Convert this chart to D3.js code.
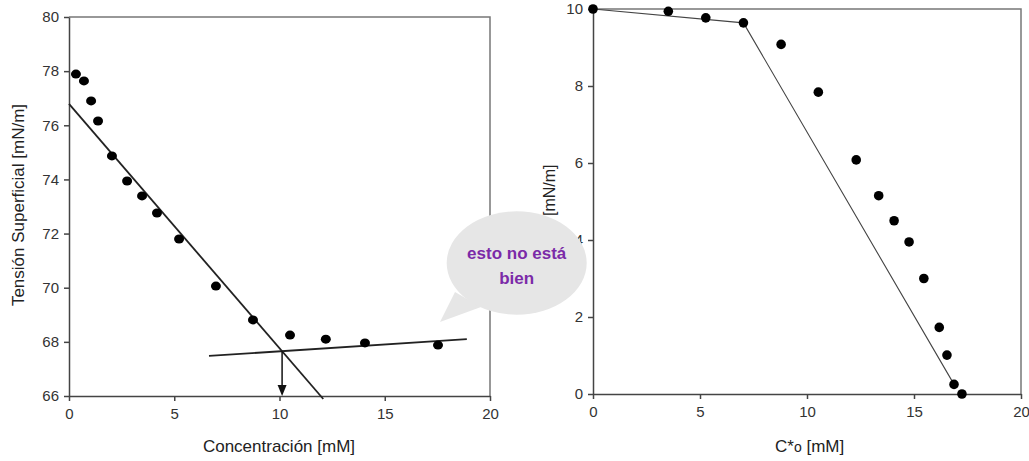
<!DOCTYPE html>
<html>
<head>
<meta charset="utf-8">
<script src="https://cdn.jsdelivr.net/npm/d3@7"></script>
<style>
  html, body { margin: 0; padding: 0; background: #fff; }
  svg { display: block; font-family: "Liberation Sans", Arial, sans-serif; }
  .tick text { fill: #333; font-size: 15px; }
  .tick line, .domain { stroke: #444; }
</style>
</head>
<body>
<svg id="chart" width="1029" height="461"></svg>
<script>
// Surface tension vs concentration (left panel)
const concX = [0.33, 0.71, 1.05, 1.38, 2.04, 2.76, 3.47, 4.18, 5.23, 6.98, 8.74, 10.5, 12.2, 14.06, 17.53];
const tensionY = [77.89, 77.64, 76.9, 76.16, 74.87, 73.94, 73.39, 72.76, 71.80, 70.06, 68.81, 68.25, 68.1, 67.96, 67.88];
// Hand-drawn fit lines (left panel)
const steepLine = [[0, 76.79], [12.08, 65.89]];
const flatLine = [[6.65, 67.48], [18.9, 68.1]];
const leftXTicks = [0, 5, 10, 15, 20];
const leftYTicks = [66, 68, 70, 72, 74, 76, 78, 80];

// Right panel
const c0X = [0, 3.52, 5.27, 7.03, 8.79, 10.53, 12.3, 13.35, 14.07, 14.77, 15.46, 16.18, 16.54, 16.87, 17.24];
const pressY = [10, 9.94, 9.77, 9.64, 9.08, 7.84, 6.08, 5.15, 4.50, 3.95, 3.00, 1.73, 1.01, 0.25, 0];
const rightFit = [[0, 10], [7.03, 9.64], [16.87, 0.25]];
const rightXTicks = [0, 5, 10, 15, 20];
const rightYTicks = [0, 2, 4, 6, 8, 10];

const bubbleLines = ["esto no está", "bien"];

const svg = d3.select("#chart");

function panel(o) {
  const x = d3.scaleLinear().domain(o.xDomain).range([o.x0, o.x1]);
  const y = d3.scaleLinear().domain(o.yDomain).range([o.y1, o.y0]);
  const g = svg.append("g");
  // top and right frame
  g.append("path")
    .attr("d", `M${o.x0},${o.y0}H${o.x1}V${o.y1}`)
    .attr("fill", "none").attr("stroke", "#777").attr("stroke-width", 1.5);
  g.append("g").attr("transform", `translate(0,${o.y1})`)
    .call(d3.axisBottom(x).tickValues(o.xTicks).tickSize(5).tickSizeOuter(0).tickPadding(7))
    .call(s => s.selectAll(".domain,.tick line").attr("stroke-width", 1.5));
  g.append("g").attr("transform", `translate(${o.x0},0)`)
    .call(d3.axisLeft(y).tickValues(o.yTicks).tickSize(5).tickSizeOuter(0).tickPadding(5))
    .call(s => s.selectAll(".domain,.tick line").attr("stroke-width", 1.5));
  return { x, y, g };
}

// ---- Left panel ----
const L = panel({ xDomain: [0, 20], yDomain: [66, 80], x0: 69, x1: 490, y0: 17, y1: 396,
  xTicks: leftXTicks, yTicks: leftYTicks });

const line = d3.line().x(d => L.x(d[0])).y(d => L.y(d[1]));
[steepLine, flatLine].forEach(l => {
  L.g.append("path").attr("d", line(l)).attr("fill", "none")
    .attr("stroke", "#222").attr("stroke-width", 1.8);
});

// intersection of the two fit lines
const m1 = (steepLine[1][1] - steepLine[0][1]) / (steepLine[1][0] - steepLine[0][0]);
const m2 = (flatLine[1][1] - flatLine[0][1]) / (flatLine[1][0] - flatLine[0][0]);
const b1 = steepLine[0][1] - m1 * steepLine[0][0];
const b2 = flatLine[0][1] - m2 * flatLine[0][0];
const cmcX = (b2 - b1) / (m1 - m2);
const cmcY = m1 * cmcX + b1;

const ax = L.x(cmcX), ayTop = L.y(cmcY), ayBot = L.y(66);
L.g.append("line").attr("x1", ax).attr("x2", ax).attr("y1", ayTop).attr("y2", ayBot - 9)
  .attr("stroke", "#111").attr("stroke-width", 1.5);
L.g.append("path").attr("d", `M${ax - 4.5},${ayBot - 11}L${ax + 4.5},${ayBot - 11}L${ax},${ayBot}Z`)
  .attr("fill", "#111");

L.g.selectAll("ellipse.pt").data(concX.map((v, i) => [v, tensionY[i]])).join("ellipse")
  .attr("class", "pt")
  .attr("cx", d => L.x(d[0])).attr("cy", d => L.y(d[1]))
  .attr("rx", 5).attr("ry", 4.5).attr("fill", "#000");

svg.append("text").attr("x", 279).attr("y", 452).attr("text-anchor", "middle")
  .attr("font-size", 17).attr("fill", "#222").text("Concentración [mM]");
svg.append("text").attr("transform", "translate(24,205) rotate(-90)").attr("text-anchor", "middle")
  .attr("font-size", 17).attr("fill", "#222").text("Tensión Superficial [mN/m]");

// ---- Right panel ----
const R = panel({ xDomain: [0, 20], yDomain: [0, 10], x0: 593, x1: 1021, y0: 9, y1: 394,
  xTicks: rightXTicks, yTicks: rightYTicks });

const rline = d3.line().x(d => R.x(d[0])).y(d => R.y(d[1]));
R.g.append("path").attr("d", rline(rightFit)).attr("fill", "none")
  .attr("stroke", "#444").attr("stroke-width", 1.1);

R.g.selectAll("circle.pt").data(c0X.map((v, i) => [v, pressY[i]])).join("circle")
  .attr("class", "pt")
  .attr("cx", d => R.x(d[0])).attr("cy", d => R.y(d[1]))
  .attr("r", 4.8).attr("fill", "#000");

const xt = svg.append("text").attr("x", 775).attr("y", 452)
  .attr("font-size", 17).attr("fill", "#222");
xt.append("tspan").text("C*");
xt.append("tspan").attr("font-size", 14).text("o");
xt.append("tspan").text(" [mM]");

svg.append("text").attr("transform", "translate(555,216) rotate(-90)")
  .attr("font-size", 16).attr("fill", "#222").text("[mN/m]");

// ---- Speech bubble ----
const bub = svg.append("g");
const cx = 516.7, cy = 263, rx = 70, ry = 51.7;
bub.append("path")
  .attr("d", `M455,292 L440,322 L481,307 Z`)
  .attr("fill", "#e6e6e6");
bub.append("ellipse").attr("cx", cx).attr("cy", cy).attr("rx", rx).attr("ry", ry)
  .attr("fill", "#e6e6e6");
bub.selectAll("text").data(bubbleLines).join("text")
  .attr("x", cx).attr("y", (d, i) => 259 + i * 25)
  .attr("text-anchor", "middle").attr("font-size", 17).attr("font-weight", "bold")
  .attr("fill", "#7b2aa8").text(d => d);
</script>
</body>
</html>
